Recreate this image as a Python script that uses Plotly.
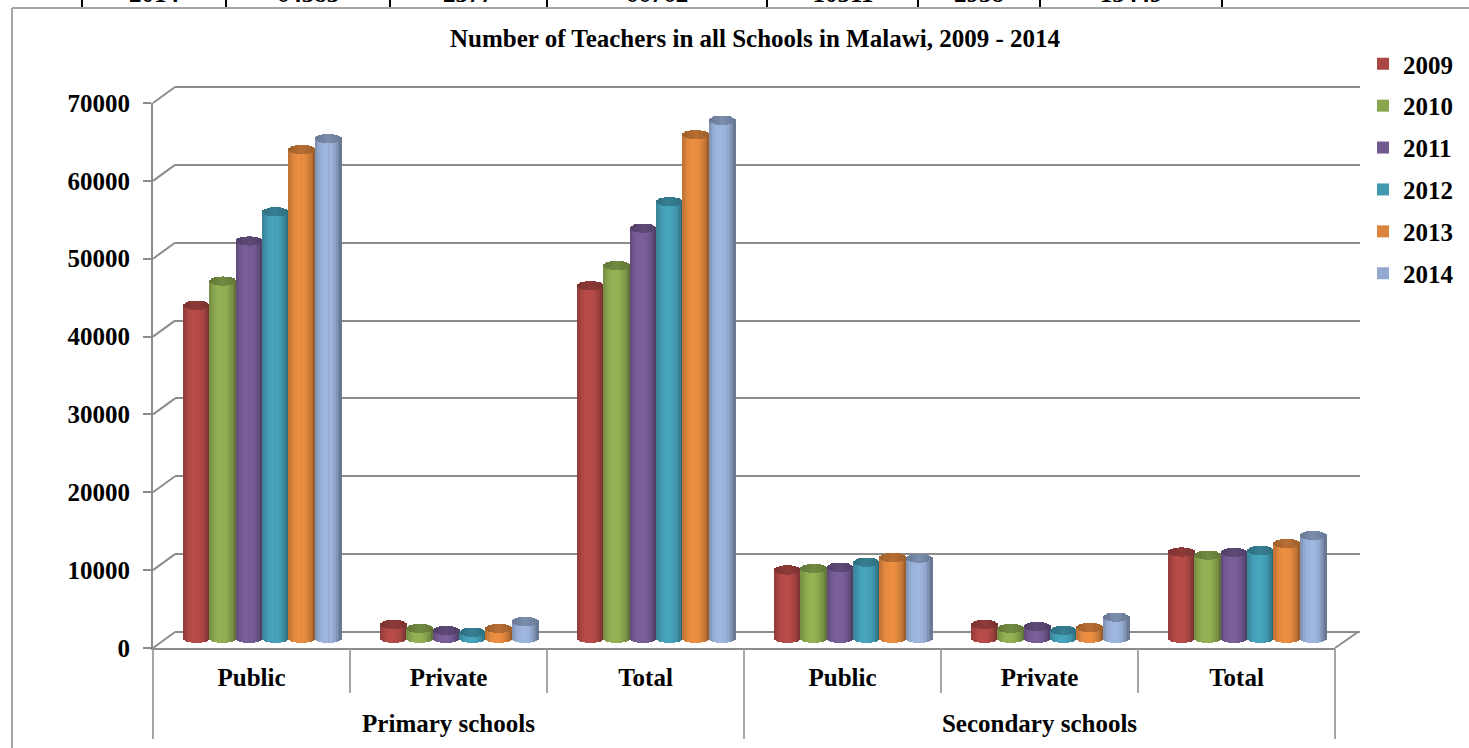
import math
import plotly.graph_objects as go

W, H = 1469, 748
FONT = "Liberation Serif"
GREY = "#8C8C8C"
FRAME = "#A6A6A6"

years = ["2009", "2010", "2011", "2012", "2013", "2014"]
level_labels = ["Primary schools", "Secondary schools"]
categories = ["Public", "Private", "Total", "Public", "Private", "Total"]
v2009 = [43000, 2000, 45500, 9000, 2000, 11300]
v2010 = [46100, 1500, 48100, 9200, 1500, 10900]
v2011 = [51250, 1250, 52900, 9350, 1750, 11250]
v2012 = [55000, 1000, 56300, 10000, 1250, 11500]
v2013 = [63000, 1500, 64900, 10600, 1600, 12400]
v2014 = [64383, 2377, 66762, 10511, 2938, 13449]
series = [v2009, v2010, v2011, v2012, v2013, v2014]
colors = ["#AA4643", "#89A54E", "#71588F", "#4198AF", "#DB843D", "#93A9CF"]
y_ticks = [0, 10000, 20000, 30000, 40000, 50000, 60000, 70000]
table_labels = ["2014", "64383", "2377", "66762", "10511", "2938", "13449"]
table_label_px = [154, 308, 468, 657, 843, 979, 1131]
table_rules_px = [82, 226, 390, 547, 767, 918, 1040, 1222]


def px(x):
    return x / W


def py(y):
    return 1 - y / H


def shade(hex_color, f):
    c = [int(hex_color[i:i + 2], 16) for i in (1, 3, 5)]
    return "rgb(%d,%d,%d)" % tuple(min(255, round(v * f)) for v in c)


def body_factor(u):
    # cylinder lighting: dark rims, bright just left of centre
    return 0.66 + 0.42 * max(0.0, 1 - abs((u + 0.12) / 1.12) ** 2.4)


FRONT_TOP, FRONT_BOT = 103, 648
BACK_TOP, BACK_BOT = 87, 632
FRONT_L, FRONT_R = 153, 1335
BACK_L, BACK_R = 175, 1360
PX_PER_UNIT = (FRONT_BOT - FRONT_TOP) / 70000
GROUP_PX = (FRONT_R - FRONT_L) / 6
BAR_PITCH = 26.33 / GROUP_PX
STRIPS = 17
ELLIPSE = 4.6 / PX_PER_UNIT
FOOT = 3.0 / PX_PER_UNIT
BAR_SHIFT_X, BAR_BASE_PX = 11, 640
PAD_PX = 14


def ghost(xaxis, yaxis, x=(0, 6), y=(0, 0)):
    return go.Scatter(x=list(x), y=list(y), mode="markers", marker=dict(opacity=0),
                      showlegend=False, hoverinfo="skip", xaxis=xaxis, yaxis=yaxis)


fig = go.Figure()
for ax in ("x", "x4", "x5", "x6"):
    fig.add_trace(ghost(ax, "y"))
fig.add_trace(ghost("x2", "y2"))

# the row of the table above the chart, cut off by the top of the page
fig.add_trace(go.Scatter(x=table_label_px, y=[7.9] * len(table_labels), text=table_labels,
                         mode="text", textposition="top center", cliponaxis=False,
                         textfont=dict(family=FONT, size=25, color="black", weight=700),
                         showlegend=False, hoverinfo="skip", xaxis="x7", yaxis="y7"))

for j, (year, vals, col) in enumerate(zip(years, series, colors)):
    xs, heights, bases, cols = [], [], [], []
    sw = BAR_PITCH / STRIPS
    # middle strip first: the legend swatch takes its colour from the first point
    order = sorted(range(STRIPS), key=lambda k: abs(k - STRIPS // 2))
    for i, v in enumerate(vals):
        cx = i + 0.5 + (j - 2.5) * BAR_PITCH
        for k in order:
            u = (k + 0.5) / STRIPS * 2 - 1
            s = math.sqrt(1 - u * u)
            foot = ELLIPSE * (1 - s) - FOOT
            xs.append(cx + u * BAR_PITCH / 2)
            bases.append(foot)
            heights.append(v + ELLIPSE * s - foot)
            cols.append(col if k == STRIPS // 2 and i == 0 else shade(col, body_factor(u)))
        for k in order:
            u = (k + 0.5) / STRIPS * 2 - 1
            s = math.sqrt(1 - u * u)
            xs.append(cx + u * BAR_PITCH / 2)
            bases.append(v - ELLIPSE * s)
            heights.append(2 * ELLIPSE * s)
            cols.append(shade(col, 0.84 - 0.12 * abs(u)))
    fig.add_trace(go.Bar(x=xs, y=heights, base=bases, width=sw * 1.02, name=year,
                         marker=dict(color=cols, line=dict(width=0)),
                         legendgroup=year, xaxis="x3", yaxis="y3", hoverinfo="skip"))

shapes = []
line = dict(color=GREY, width=2)
for v in y_ticks:
    yf = FRONT_BOT - v * PX_PER_UNIT
    yb = BACK_BOT - v * PX_PER_UNIT
    shapes.append(dict(type="line", xref="paper", yref="paper", x0=px(FRONT_L), x1=px(BACK_L),
                       y0=py(yf), y1=py(yb), line=line, layer="below"))
shapes.append(dict(type="line", xref="paper", yref="paper", x0=px(FRONT_R), x1=px(BACK_R - 2),
                   y0=py(FRONT_BOT), y1=py(BACK_BOT), line=line, layer="below"))
frame = dict(color=FRAME, width=2)
shapes.append(dict(type="line", xref="paper", yref="paper", x0=px(12), x1=px(12),
                   y0=py(8), y1=py(H), line=frame))
shapes.append(dict(type="line", xref="paper", yref="paper", x0=px(12), x1=1,
                   y0=py(8), y1=py(8), line=frame))
for x in table_rules_px:
    shapes.append(dict(type="line", xref="paper", yref="paper", x0=px(x), x1=px(x),
                       y0=py(0), y1=py(7), line=dict(color="black", width=2)))

tick_font = dict(family=FONT, size=25, color="black", weight=700)
front_x = [px(FRONT_L), px(FRONT_R)]
back_pad = 10 / PX_PER_UNIT

fig.update_layout(
    width=W, height=H, margin=dict(l=0, r=0, t=0, b=0, pad=0, autoexpand=False),
    paper_bgcolor="white", plot_bgcolor="rgba(0,0,0,0)",
    barmode="overlay", bargap=0,
    title=dict(text="Number of Teachers in all Schools in Malawi, 2009 - 2014",
               x=px(755), xanchor="center", y=py(38), yanchor="middle",
               font=dict(family=FONT, size=25, color="black", weight=700)),
    legend=dict(x=px(1363), y=py(41), xanchor="left", yanchor="top", tracegroupgap=6.4,
                font=tick_font, bgcolor="rgba(0,0,0,0)", borderwidth=0, traceorder="grouped"),
    # front: category labels on the inner level
    xaxis=dict(domain=front_x, range=[0, 6], anchor="y", tickvals=[i + 0.5 for i in range(6)],
               ticktext=categories, ticks="", tickfont=tick_font, ticklabelstandoff=6,
               showline=True, linecolor=GREY, linewidth=2, showgrid=False, zeroline=False),
    yaxis=dict(domain=[py(FRONT_BOT), py(FRONT_TOP)], range=[0, 70000], anchor="x",
               tickvals=y_ticks, ticktext=[str(v) for v in y_ticks], ticks="outside",
               ticklen=8, tickwidth=2, tickcolor=GREY, showline=True, linecolor=GREY,
               linewidth=2, tickfont=tick_font, showgrid=False, zeroline=False,
               ticklabelstandoff=8),
    # back wall gridlines
    xaxis2=dict(domain=[px(BACK_L), px(BACK_R)], range=[0, 6], anchor="y2", showline=False,
                showticklabels=False, ticks="", showgrid=False, zeroline=False),
    yaxis2=dict(domain=[py(BACK_BOT + 10), py(BACK_TOP - 10)],
                range=[-back_pad, 70000 + back_pad], anchor="x2",
                tickvals=y_ticks, showticklabels=False, ticks="", showline=False, showgrid=True,
                gridcolor=GREY, gridwidth=2, zeroline=False),
    # the bars stand between the front edge and the back wall
    xaxis3=dict(domain=[px(FRONT_L + BAR_SHIFT_X), px(FRONT_R + BAR_SHIFT_X)], range=[0, 6],
                anchor="y3", visible=False),
    yaxis3=dict(domain=[py(BAR_BASE_PX + PAD_PX), py(BAR_BASE_PX - 545 - PAD_PX)],
                range=[-PAD_PX / PX_PER_UNIT, 70000 + PAD_PX / PX_PER_UNIT],
                anchor="x3", visible=False),
    # dividers under the axis
    xaxis4=dict(domain=front_x, range=[0, 6], anchor="y", tickvals=[1, 2, 4, 5], ticks="outside",
                ticklen=44, tickwidth=2, tickcolor=FRAME, showticklabels=False, showgrid=False,
                zeroline=False, showline=False),
    xaxis5=dict(domain=front_x, range=[0, 6], anchor="y", tickvals=[0, 3, 6], ticks="outside",
                ticklen=90, tickwidth=2, tickcolor=FRAME, showticklabels=False, showgrid=False,
                zeroline=False, showline=False),
    # outer category level
    xaxis6=dict(domain=front_x, range=[0, 6], anchor="y", tickvals=[1.5, 4.5],
                ticktext=level_labels, ticks="", tickfont=tick_font, ticklabelstandoff=58,
                showgrid=False, zeroline=False, showline=False),
    # table strip
    xaxis7=dict(domain=[0, 1], range=[0, W], anchor="y7", visible=False),
    yaxis7=dict(domain=[py(8), 1], range=[8, 0], anchor="x7", visible=False),
    shapes=shapes,
)

fig.write_html("out.html", config={"displayModeBar": False},
               post_script="document.body.style.margin='0';")
